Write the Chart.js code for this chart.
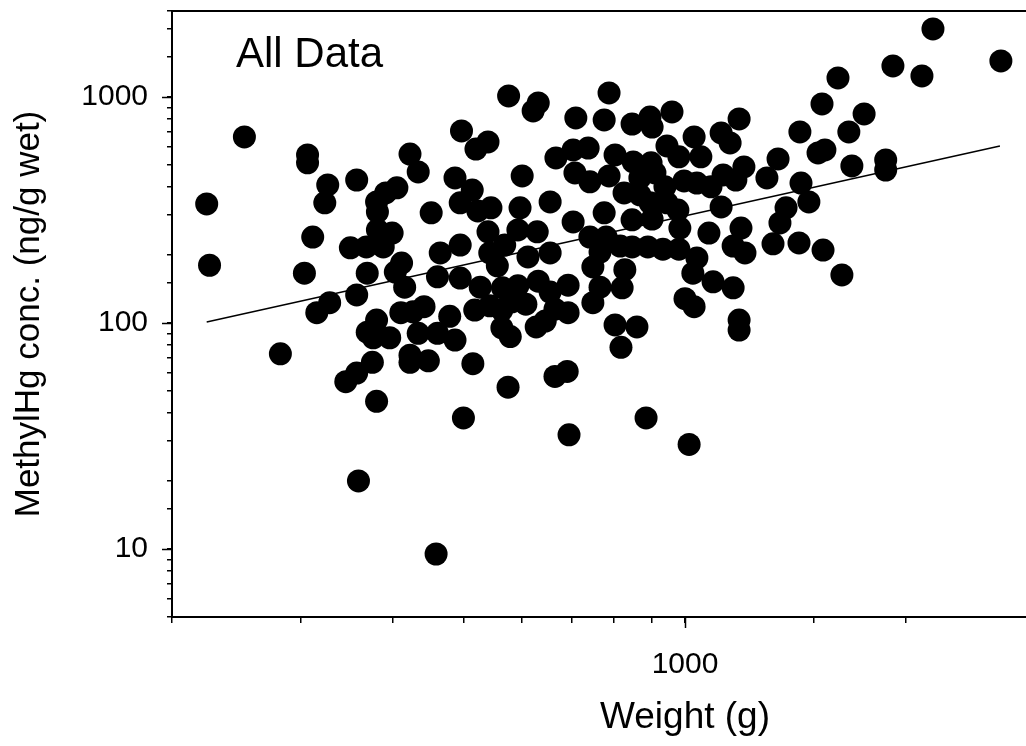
<!DOCTYPE html>
<html>
<head>
<meta charset="utf-8">
<script src="https://cdn.jsdelivr.net/npm/chart.js@4/dist/chart.umd.min.js"></script>
<style>
  html, body { margin: 0; padding: 0; background: #fff; overflow: hidden; width: 1026px; height: 746px; }
  canvas { display: block; }
</style>
</head>
<body>
<canvas id="scatterChart" width="1198" height="746"></canvas>
<script>
// fish weight (g) and methylmercury concentration (ng/g wet)
const weight = [223,225,251,281,303,306,306,311,315,323,326,328,345,350,357,357,357,359,368,369,
    369,376,375,380,381,381,380,380,388,391,399,396,405,403,411,415,410,422,433,422,
    422,426,441,433,447,451,458,460,464,460,478,486,486,494,494,494,496,499,513,517,
    514,519,522,526,539,539,544,542,542,555,563,563,564,568,574,575,578,581,592,596,
    592,600,607,611,621,631,627,629,631,645,655,655,655,665,667,665,691,693,693,695,
    704,704,708,710,738,742,742,749,749,766,766,776,776,781,788,788,803,803,816,818,
    821,826,828,847,847,850,847,860,868,868,885,890,896,902,899,896,902,910,933,939,
    945,945,960,978,981,981,984,997,1000,1013,1025,1029,1029,1038,1038,1051,1078,1085,1092,1120,
    1120,1127,1152,1163,1163,1173,1185,1185,1185,1192,1203,1207,1293,1318,1339,1347,1373,1430,1434,1439,
    1475,1518,1551,1537,1542,1616,1636,1672,1688,1754,1877,1877,1920,2103,2177,2694];

const methylHg = [336,180,665,73,166,554,511,240,111,340,408,123,55,215,429,133,60,20,217,166,
    91,86,67,343,310,258,103,45,217,376,250,86,396,168,184,144,111,559,466,72,
    67,112,118,90,68,307,9.5,160,204,90,107,438,84,340,221,158,707,38,387,114,
    66,588,313,144,632,253,323,204,119,179,114,95,143,221,52,1010,87,124,258,323,
    146,447,121,196,867,941,96,253,153,102,343,204,137,115,537,58,61,147,111,32,
    583,280,461,807,594,421,240,177,123,206,144,791,307,240,1042,447,554,98,219,78,
    143,376,172,759,217,516,286,96,438,369,38,217,815,736,511,340,288,461,212,400,
    607,340,858,316,543,212,263,425,128,29,166,665,118,416,194,543,250,400,152,693,
    326,452,626,219,143,429,799,103,93,263,490,204,438,224,532,277,323,226,700,416,
    343,565,583,931,210,1214,163,700,495,841,526,475,1371,1238,1999,1443];

// regression line end points
const fitWeight = [223, 2686];
const fitConc = [101, 607];

// labelled ticks
const xTickLabels = [1000];
const yTickLabels = [10, 100, 1000];

const points = weight.map((w, i) => ({ x: w, y: methylHg[i] }));
const fitLine = fitWeight.map((w, i) => ({ x: w, y: fitConc[i] }));

const FONT = 'Liberation Sans, Arial, sans-serif';

// longer tick marks at labelled values, frame line on top, "All Data" note
const extras = {
    id: 'extras',
    afterDraw(chart) {
        const ctx = chart.ctx;
        const area = chart.chartArea;
        const xs = chart.scales.x, ys = chart.scales.y;
        ctx.save();
        ctx.strokeStyle = '#000';
        ctx.lineWidth = 1.5;
        xTickLabels.forEach(v => {
            const px = Math.round(xs.getPixelForValue(v)) + 0.5;
            ctx.beginPath();
            ctx.moveTo(px, area.bottom);
            ctx.lineTo(px, area.bottom + 11);
            ctx.stroke();
        });
        yTickLabels.forEach(v => {
            const py = Math.round(ys.getPixelForValue(v)) + 0.5;
            ctx.beginPath();
            ctx.moveTo(area.left, py);
            ctx.lineTo(area.left - 10, py);
            ctx.stroke();
        });
        ctx.lineWidth = 2;
        ctx.beginPath();
        ctx.moveTo(area.left, area.top);
        ctx.lineTo(area.right, area.top);
        ctx.stroke();

        ctx.fillStyle = '#000';
        ctx.font = '42px ' + FONT;
        ctx.textBaseline = 'alphabetic';
        ctx.fillText('All Data', area.left + 64, area.top + 56);
        ctx.restore();
    }
};

new Chart(document.getElementById('scatterChart'), {
    type: 'scatter',
    data: {
        datasets: [
            {
                label: 'All Data',
                data: points,
                backgroundColor: '#000',
                borderColor: '#000',
                borderWidth: 0,
                pointRadius: 11.5,
                order: 1
            },
            {
                type: 'line',
                label: 'fit',
                data: fitLine,
                borderColor: '#000',
                borderWidth: 1.5,
                pointRadius: 0,
                fill: false,
                order: 2
            }
        ]
    },
    options: {
        responsive: false,
        animation: false,
        devicePixelRatio: 1,
        layout: { autoPadding: false, padding: { top: 11, right: 0, bottom: 0, left: 0 } },
        plugins: {
            legend: { display: false },
            tooltip: { enabled: false }
        },
        scales: {
            x: {
                type: 'logarithmic',
                min: 200,
                max: 5000,
                afterFit(scale) {
                    scale.height = 129;
                    scale.paddingLeft = 0;
                    scale.paddingRight = 0;
                },
                border: { display: true, color: '#000', width: 2 },
                grid: { display: true, drawOnChartArea: false, drawTicks: true, tickLength: 6, color: '#000', lineWidth: 1.5 },
                ticks: {
                    autoSkip: false,
                    maxRotation: 0,
                    padding: 24,
                    color: '#000',
                    font: { family: FONT, size: 30 },
                    callback: v => xTickLabels.includes(v) ? String(v) : ''
                },
                title: {
                    display: true,
                    text: 'Weight (g)',
                    color: '#000',
                    font: { family: FONT, size: 37 },
                    padding: { top: 0, bottom: 6 }
                }
            },
            y: {
                type: 'logarithmic',
                min: 5,
                max: 2400,
                afterFit(scale) {
                    scale.width = 172;
                    scale.paddingTop = 0;
                    scale.paddingBottom = 0;
                },
                border: { display: true, color: '#000', width: 2 },
                grid: { display: true, drawOnChartArea: false, drawTicks: true, tickLength: 5, color: '#000', lineWidth: 1.5 },
                ticks: {
                    autoSkip: false,
                    padding: 19,
                    color: '#000',
                    font: { family: FONT, size: 30 },
                    callback: v => yTickLabels.includes(v) ? String(v) : ''
                },
                title: {
                    display: true,
                    text: 'MethylHg conc. (ng/g wet)',
                    color: '#000',
                    font: { family: FONT, size: 35 },
                    padding: { top: 8, bottom: 0 }
                }
            }
        }
    },
    plugins: [extras]
});
</script>
</body>
</html>
